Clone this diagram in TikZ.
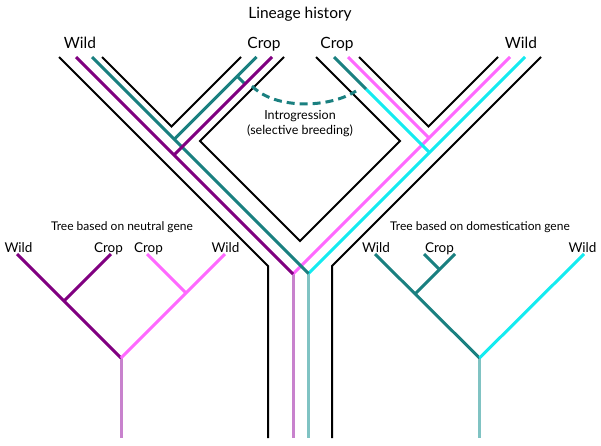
\documentclass[tikz,border=0pt]{standalone}
\usepackage{fontspec}
\setmainfont{Lato}
\definecolor{gpurple}{RGB}{128,0,128}
\definecolor{gteal}{RGB}{26,128,128}
\definecolor{gpink}{RGB}{255,105,255}
\definecolor{gcyan}{RGB}{20,235,240}
\definecolor{gpurplel}{RGB}{200,130,205}
\definecolor{gteall}{RGB}{128,195,195}
\begin{document}
\begin{tikzpicture}[x=1pt,y=-1pt,
	wall/.style={line width=2pt,black},
	gene/.style={line width=3pt},
	big/.style={anchor=base,inner sep=0pt,font=\fontsize{15.5}{18}\selectfont},
	mid/.style={anchor=base,inner sep=0pt,font=\fontsize{12.5}{15}\selectfont},
	small/.style={anchor=base,inner sep=0pt,font=\fontsize{12}{14}\selectfont},
	tip/.style={anchor=base,inner sep=0pt,font=\fontsize{13.5}{16}\selectfont}]
	\useasboundingbox (0,0) rectangle (601,445);
	\def\yt{57} \def\yb{438}
	\node[big] (title) at (300,18.5) {Lineage history};
	\node[big] (wildA) at (80,48.5) {Wild};
	\node[big] (cropA) at (264,48.5) {Crop};
	\node[big] (cropB) at (337,48.5) {Crop};
	\node[big] (wildB) at (521,48.5) {Wild};
	\node[mid] (intro) at (300,119) {Introgression};
	\node[mid] (breed) at (300,134) {(selective breeding)};
	% lineage tubes
	\draw[wall] (59,\yt)--(268,266)--(268,\yb);
	\draw[wall] (102,\yt)--(171.5,126.5)--(241,\yt);
	\draw[wall] (284,\yt)--(200,141)--(300,241)--(400,141)--(316,\yt);
	\draw[wall] (359,\yt)--(428.5,126.5)--(498,\yt);
	\draw[wall] (541,\yt)--(332,266)--(332,\yb);
	% genes inside the tubes
	\coordinate (jn) at (293,274);
	\coordinate (jd) at (308.5,273.5);
	\coordinate (sw) at (366,89);
	\draw[gene,gpurplel] (jn)--(293,\yb);
	\draw[gene,gteall] (jd)--(308.5,\yb);
	\draw[gene,gpink] (510,\yt)--(jn);
	\draw[gene,gpink] (348,\yt)--(429,138);
	\draw[gene,gcyan] (525,\yt)--(jd);
	\draw[gene,gcyan] (sw)--(429.5,152.5);
	\draw[gene,gteal] (334,\yt)--(sw);
	\draw[gene,gteal] (92,\yt)--(jd);
	\draw[gene,gteal] (256.5,\yt)--(174.25,139.25);
	\draw[gene,gteal] (237.5,76.5)--(245,84);
	\draw[gene,gpurple] (76,\yt)--(jn);
	\draw[gene,gpurple] (272,\yt)--(174,155);
	\draw[gene,gteal,dash pattern=on 8pt off 5pt] (252,86) .. controls (275,110) and (330,108) .. (356,91);
	% tree, neutral gene
	\node[small] (ntitle) at (122,230.5) {Tree based on neutral gene};
	\node[tip] (nwildA) at (18.5,252.3) {Wild};
	\node[tip] (ncropA) at (108.5,252.3) {Crop};
	\node[tip] (ncropB) at (148.5,252.3) {Crop};
	\node[tip] (nwildB) at (225.5,252.3) {Wild};
	\coordinate (nroot) at (121,358);
	\draw[gene,gpurplel] (nroot)--(121,\yb);
	\draw[gene,gpurple] (17,254)--(nroot);
	\draw[gene,gpurple] (111,254)--(64,301);
	\draw[gene,gpink] (225,254)--(nroot);
	\draw[gene,gpink] (147,254)--(185.5,292.5);
	% tree, domestication gene
	\node[small] (dtitle) at (480,230.5) {Tree based on domestication gene};
	\node[tip] (dwildA) at (376,252.3) {Wild};
	\node[tip] (dcrop) at (439.5,252.3) {Crop};
	\node[tip] (dwildB) at (582.5,252.3) {Wild};
	\coordinate (droot) at (479.5,358);
	\draw[gene,gteall] (droot)--(479.5,\yb);
	\draw[gene,gteal] (375,254)--(droot);
	\draw[gene,gteal] (455,254)--(415,294);
	\draw[gene,gteal] (424,254)--(439,269);
	\draw[gene,gcyan] (584,254)--(droot);
\end{tikzpicture}
\end{document}
